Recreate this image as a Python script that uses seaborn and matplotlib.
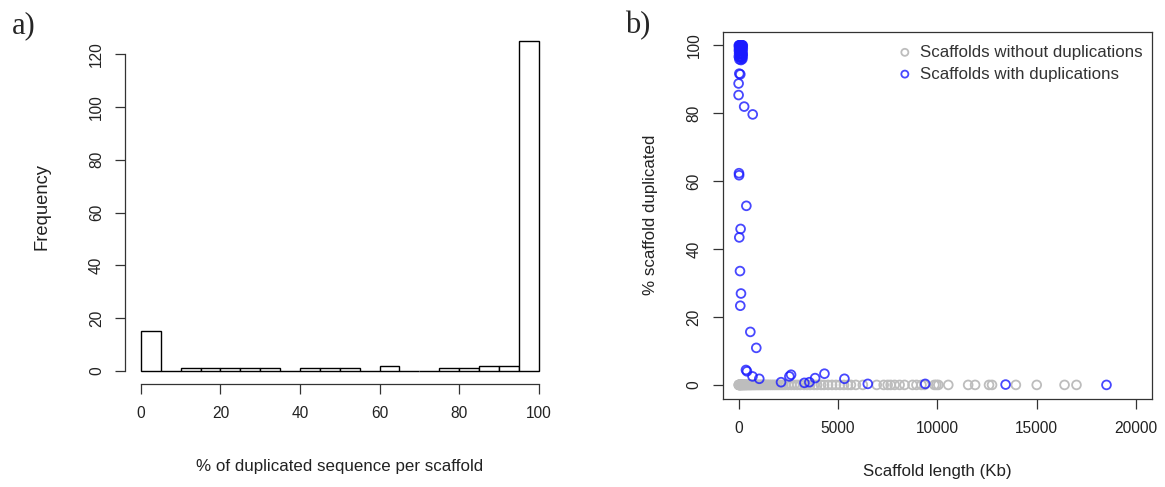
import matplotlib
matplotlib.use("Agg")
import matplotlib.pyplot as plt
import numpy as np
import pandas as pd
import seaborn as sns

# --- panel a: histogram of % duplicated sequence per scaffold ---
bin_edges = [0, 5, 10, 15, 20, 25, 30, 35, 40, 45, 50, 55, 60, 65, 70, 75, 80, 85, 90, 95, 100]
bin_counts = [15, 0, 1, 1, 1, 1, 1, 0, 1, 1, 1, 0, 2, 0, 0, 1, 1, 2, 2, 125]
hist_xticks = [0, 20, 40, 60, 80, 100]
hist_yticks = [0, 20, 40, 60, 80, 100, 120]

# --- panel b: scaffold length vs % duplicated ---
nodup_len_kb = [
    5, 15, 25, 35, 50, 65, 80, 95, 110, 130, 150, 170, 190, 215, 240, 265, 290,
    320, 350, 380, 410, 445, 480, 520, 560, 600, 640, 690, 740, 790, 840, 900,
    960, 1020, 1090, 1160, 1230, 1310, 1390, 1470, 1560, 1650, 1740, 1830,
    1930, 2030, 2140, 2250, 2360, 2500, 2650, 2800, 2950, 3100, 3300, 3450,
    3600, 3800, 3950, 4150, 4300, 4500, 4700, 4900, 5100, 5300, 5500, 5650,
    5900, 6250, 6950, 7300, 7500, 7650, 7850, 8100, 8350, 8750, 8950, 9200,
    9350, 9850, 9950, 10050, 10550, 11550, 11900, 12600, 12750, 13950, 15000,
    16400, 17000,
]
nodup_pct = [0.0] * len(nodup_len_kb)

dup_len_kb = [
    10, 30, 50, 70, 90, 110, 130, 150, 170, 190, 210,
    20, 60, 100, 140, 180, 210,
    15, 45, 85, 125, 165, 200,
    25, 65, 105, 145, 185, 205,
    10, 50, 90, 130, 170, 200,
    40, 120, 190,
    35, 85, 0, 0, 280, 710, 20, 25, 390, 100, 35, 70, 120, 85,
    590, 890, 370, 420, 700, 1040, 2135, 2555, 2640, 3310, 3560, 3850,
    4320, 5325, 6500, 9390, 13435, 18510,
]
dup_pct = [
    99.9, 99.9, 99.9, 99.9, 99.9, 99.9, 99.9, 99.9, 99.9, 99.9, 99.9,
    99.2, 99.3, 99.1, 99.4, 99.2, 99.0,
    98.4, 98.6, 98.2, 98.5, 98.3, 98.1,
    97.5, 97.7, 97.3, 97.6, 97.4, 97.2,
    96.6, 96.4, 96.8, 96.5, 96.2, 96.7,
    95.8, 95.6, 95.9,
    91.6, 91.4, 88.7, 85.3, 81.9, 79.6, 62.3, 61.7, 52.7, 45.9, 43.4, 33.5, 26.9, 23.3,
    15.6, 10.9, 4.4, 4.0, 2.5, 1.8, 0.8, 2.5, 3.0, 0.6, 0.8, 2.0,
    3.3, 1.8, 0.3, 0.3, 0.1, 0.0,
]
scatter_xticks = [0, 5000, 10000, 15000, 20000]
scatter_yticks = [0, 20, 40, 60, 80, 100]

GRAY = "#bdbdbd"
BLUE = (0.1, 0.1, 1.0, 0.8)

sns.set_style("ticks")
plt.rcParams["font.family"] = ["Liberation Sans", "DejaVu Sans"]

W, H = 1165, 487
fig = plt.figure(figsize=(W / 100, H / 100), dpi=100, facecolor="white")


def px_axes(x0, y0, x1, y1):
    # axes from pixel box (top-left origin)
    return fig.add_axes([x0 / W, 1 - y1 / H, (x1 - x0) / W, (y1 - y0) / H])


TICK_FS = 11.2
LABEL_FS = 12.2

# ---------------- panel a ----------------
ax1 = px_axes(125, 28, 554.5, 384)
mids = [(a + b) / 2 for a, b in zip(bin_edges[:-1], bin_edges[1:])]
sns.histplot(
    x=mids, weights=bin_counts, bins=bin_edges, ax=ax1,
    color="white", edgecolor="black", linewidth=1.0, alpha=1,
)
ax1.set_xlim(-4, 104)
ax1.set_ylim(-5, 130)
ax1.set_xticks(hist_xticks)
ax1.set_yticks(hist_yticks)
for side in ["top", "right"]:
    ax1.spines[side].set_visible(False)
ax1.spines["left"].set_bounds(0, 120)
ax1.spines["bottom"].set_bounds(0, 100)
ax1.tick_params(axis="both", direction="out", length=7.2, width=0.9,
                labelsize=TICK_FS, color="#333333", labelcolor="#222222")
ax1.tick_params(axis="x", pad=9)
ax1.tick_params(axis="y", pad=8)
plt.setp(ax1.get_yticklabels(), rotation=90, va="center")
ax1.set_xlabel("% of duplicated sequence per scaffold", fontsize=LABEL_FS, color="#222222")
ax1.set_ylabel("Frequency", fontsize=13.2, color="#222222")
ax1.xaxis.set_label_coords(0.5, -0.233)
ax1.xaxis.label.set_va("center")
ax1.yaxis.set_label_coords(-0.193, 0.5)
ax1.yaxis.label.set_va("center")
for sp in ax1.spines.values():
    sp.set_linewidth(0.9)
    sp.set_color("#333333")

# ---------------- panel b ----------------
ax2 = px_axes(722.7, 31.5, 1152, 398.5)
sns.scatterplot(
    x=nodup_len_kb, y=nodup_pct, ax=ax2, marker="o", s=40,
    facecolor="none", edgecolor=GRAY, linewidth=1.3,
    label="Scaffolds without duplications",
)
sns.scatterplot(
    x=dup_len_kb, y=dup_pct, ax=ax2, marker="o", s=40,
    facecolor="none", edgecolor=BLUE, linewidth=1.3,
    label="Scaffolds with duplications",
)
ax2.set_xlim(-800, 20800)
ax2.set_ylim(-4, 104)
ax2.set_xticks(scatter_xticks)
ax2.set_yticks(scatter_yticks)
ax2.tick_params(axis="both", direction="out", length=7.2, width=0.9,
                labelsize=TICK_FS, color="#333333", labelcolor="#222222")
ax2.tick_params(axis="x", pad=9)
ax2.tick_params(axis="y", pad=8)
plt.setp(ax2.get_yticklabels(), rotation=90, va="center")
ax2.set_xlabel("Scaffold length (Kb)", fontsize=LABEL_FS, color="#222222")
ax2.set_ylabel("% scaffold duplicated", fontsize=LABEL_FS, color="#222222")
ax2.xaxis.set_label_coords(0.5, -0.2)
ax2.xaxis.label.set_va("center")
ax2.yaxis.set_label_coords(-0.169, 0.5)
ax2.yaxis.label.set_va("center")
for sp in ax2.spines.values():
    sp.set_linewidth(0.9)
    sp.set_color("#333333")
leg = ax2.legend(loc="upper right", bbox_to_anchor=(1 - 2.5 / 429.3, 1 - 6.5 / 367),
                 frameon=False, fontsize=LABEL_FS,
                 handletextpad=0.4, borderaxespad=0, labelspacing=0.4,
                 handlelength=1.0, markerscale=0.8)
for t in leg.get_texts():
    t.set_color("#333333")

# panel letters
fig.text(12 / W, 1 - 33 / H, "a)", fontsize=22, family="Liberation Serif", va="baseline")
fig.text(625 / W, 1 - 33 / H, "b)", fontsize=22, family="Liberation Serif", va="baseline")

fig.savefig("out.png", dpi=100, facecolor="white")
